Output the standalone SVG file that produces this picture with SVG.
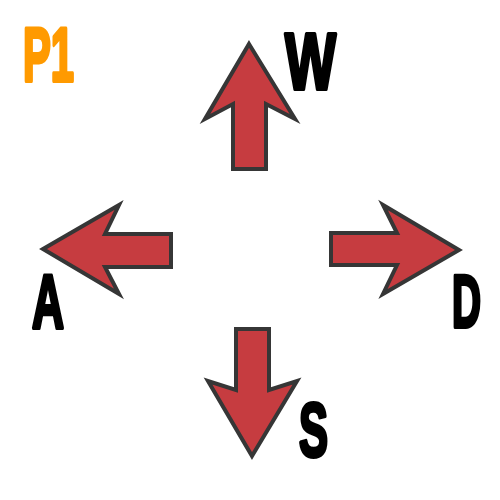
<svg xmlns="http://www.w3.org/2000/svg" width="500" height="500" viewBox="0 0 500 500">
<style>
.arrow{fill:#c63c40;stroke:#363636;stroke-width:4;stroke-linejoin:miter;stroke-miterlimit:10}
.key{font-family:"Liberation Sans",Arial,sans-serif;font-weight:bold;fill:#000;stroke:#000;stroke-width:4;stroke-linejoin:round}
.p1{fill:#ff9a00;stroke:#ff9a00}
</style>
<rect width="500" height="500" fill="#fff"/>
<g id="connectors">
<path id="arrow-up" class="arrow" d="M249,44 L295,119 L266,104 L266,169 L233,169 L233,104 L205,119 Z"/>
<path id="arrow-left" class="arrow" d="M43,249 L119,205 L105,234 L171,234 L171,267 L105,267 L119,294 Z"/>
<path id="arrow-right" class="arrow" d="M459,250 L383,205 L397,233 L331,233 L331,265 L397,265 L383,294 Z"/>
<path id="arrow-down" class="arrow" d="M252,456 L297,381 L269,390 L269,329 L236,329 L236,390 L208,381 Z"/>
</g>
<g id="label-p1"><text class="key p1" x="23" y="81" font-size="76" textLength="51" lengthAdjust="spacingAndGlyphs">P1</text></g>
<g id="label-w"><text class="key" x="285" y="89" font-size="80" textLength="51" lengthAdjust="spacingAndGlyphs">W</text></g>
<g id="label-a"><text class="key" x="32" y="328" font-size="76" textLength="32" lengthAdjust="spacingAndGlyphs">A</text></g>
<g id="label-d"><text class="key" x="452" y="327" font-size="74" textLength="29" lengthAdjust="spacingAndGlyphs">D</text></g>
<g id="label-s"><text class="key" x="299" y="455.5" font-size="76" textLength="29" lengthAdjust="spacingAndGlyphs">S</text></g>
</svg>
